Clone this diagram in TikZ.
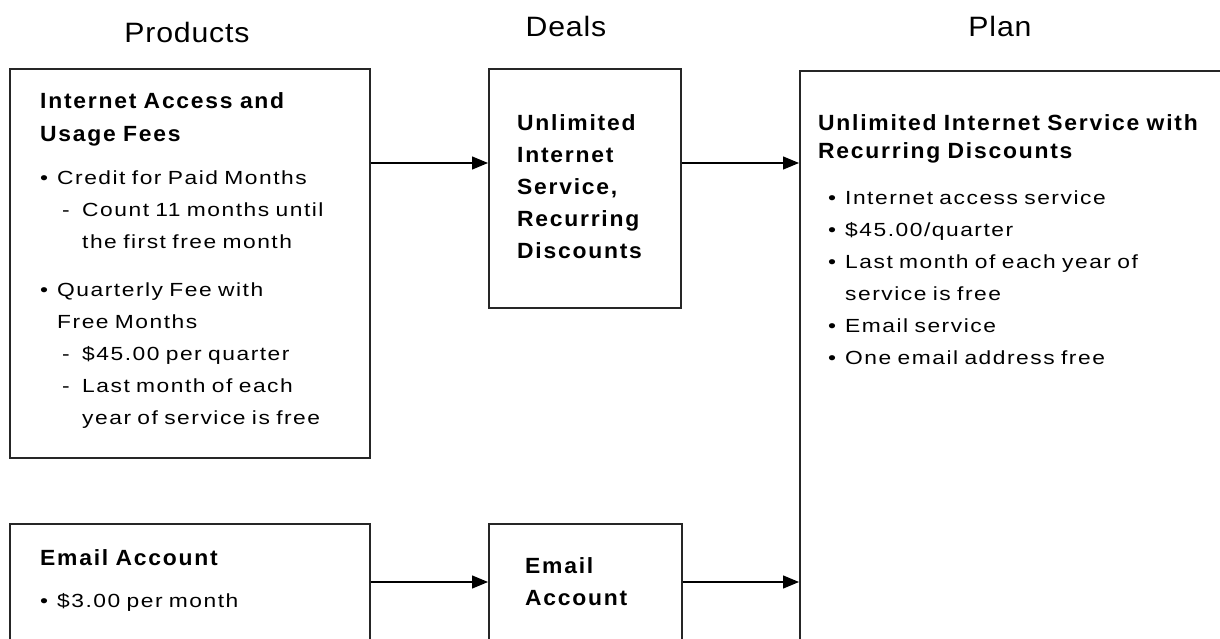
\documentclass[tikz,border=0pt]{standalone}
\usepackage{fontspec}
\setmainfont{Liberation Sans}
\newfontfamily\bodyfont{Liberation Sans}[FakeStretch=1.2, LetterSpace=8]
\newfontfamily\headfont{Liberation Sans}[FakeStretch=1.04, LetterSpace=8]
\newfontfamily\titlefont{Liberation Sans}[FakeStretch=1.08, LetterSpace=3]
\usetikzlibrary{arrows.meta,positioning}
\tikzstyle{prodbox} = [rectangle, draw=black!85, line width=1.7pt, anchor=north west,
    inner sep=0pt]
\tikzstyle{coltitle} = [font=\titlefont\fontsize{28}{32}\selectfont, anchor=base]
\tikzstyle{headtext} = [font=\headfont\bfseries\fontsize{22}{33}\selectfont,
    text width=420pt, align=left, inner sep=0pt]
\tikzstyle{listtext} = [font=\bodyfont\fontsize{19}{32}\selectfont,
    text width=420pt, align=left, inner sep=0pt]
\tikzstyle{line} = [draw, line width=1.3pt, -{Triangle[length=16pt,width=13pt]}]
\newcommand{\itm}{\makebox[17pt][l]{•}}
\newcommand{\itmcont}{\hspace*{17pt}}
\newcommand{\subitm}{\hspace*{22pt}\makebox[20pt][l]{-}}
\newcommand{\subcont}{\hspace*{42pt}}

\begin{document}
\begin{tikzpicture}[x=1pt, y=-1pt]
\useasboundingbox (0,0) rectangle (1220,639);
\clip (0,0) rectangle (1220,639);
    % Place boxes
    \node [prodbox, minimum width=360pt, minimum height=389pt] (internet) at (9,68) {};
    \node [prodbox, minimum width=360pt, minimum height=200pt] (email) at (9,523) {};
    \node [prodbox, minimum width=192pt, minimum height=239pt] (dealnet) at (488,68) {};
    \node [prodbox, minimum width=193pt, minimum height=200pt] (dealmail) at (488,523) {};
    \node [prodbox, minimum width=480pt, minimum height=640pt] (plan) at (799,70) {};

    % Column titles
    \node [coltitle] (tprod) at (187,43) {Products};
    \node [coltitle] (tdeal) at (566,37) {Deals};
    \node [coltitle] (tplan) at (1000,37) {Plan};

    % Box texts
    \node [headtext, below right=24pt and 31pt of internet.north west] (internethead)
        {Internet Access and\\Usage Fees};
    \node [listtext, below right=103pt and 31pt of internet.north west] (internetlist)
        {\itm Credit for Paid Months\\ \subitm Count 11 months until\\
         \subcont the first free month\\[16pt] \itm Quarterly Fee with\\
         \itmcont Free Months\\ \subitm \$45.00 per quarter\\
         \subitm Last month of each\\ \subcont year of service is free};
    \node [headtext, below right=26pt and 31pt of email.north west] (emailhead)
        {Email Account};
    \node [listtext, below right=70pt and 31pt of email.north west] (emaillist)
        {\itm \$3.00 per month};
    \node [headtext, font=\headfont\bfseries\fontsize{22}{32}\selectfont,
        below right=46pt and 29pt of dealnet.north west] (dealnettext)
        {Unlimited\\Internet\\Service,\\Recurring\\Discounts};
    \node [headtext, font=\headfont\bfseries\fontsize{22}{32}\selectfont,
        below right=34pt and 37pt of dealmail.north west] (dealmailtext)
        {Email\\Account};
    \node [headtext, font=\headfont\bfseries\fontsize{22}{28}\selectfont,
        below right=44pt and 19pt of plan.north west] (planhead)
        {Unlimited Internet Service with\\Recurring Discounts};
    \node [listtext, below right=121pt and 29pt of plan.north west] (planlist)
        {\itm Internet access service\\ \itm \$45.00/quarter\\
         \itm Last month of each year of\\ \itmcont service is free\\
         \itm Email service\\ \itm One email address free};

    % Draw edges
    \coordinate (toprow) at (0,163);
    \coordinate (lowrow) at (0,582);
    \path [line] (internet.east |- toprow) -- (dealnet.west |- toprow);
    \path [line] (dealnet.east |- toprow) -- (plan.west |- toprow);
    \path [line] (email.east |- lowrow) -- (dealmail.west |- lowrow);
    \path [line] (dealmail.east |- lowrow) -- (plan.west |- lowrow);
\end{tikzpicture}
\end{document}
